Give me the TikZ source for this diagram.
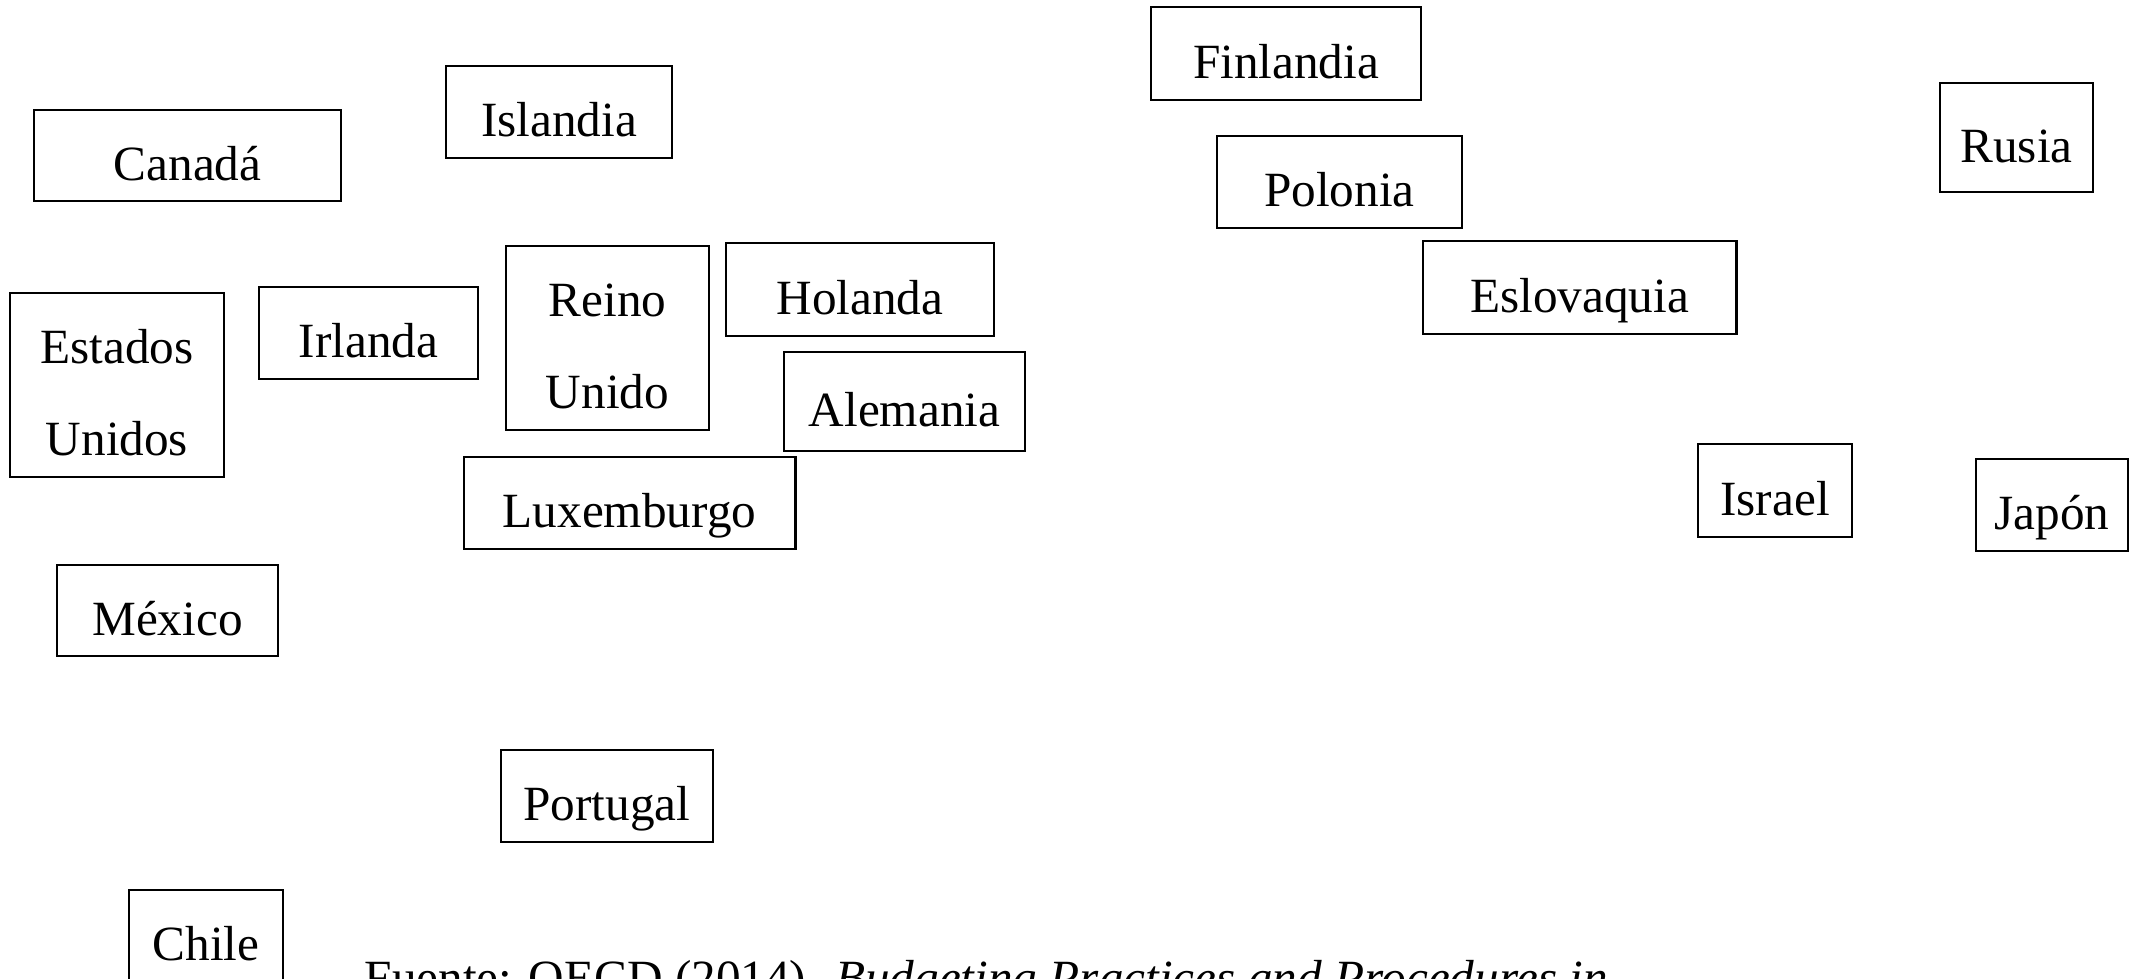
\documentclass[tikz,border=0pt]{standalone}
\usepackage{fontspec}
\setmainfont{Liberation Serif}
\usepackage{xcolor}
\usetikzlibrary{positioning}

\begin{document}
\begin{tikzpicture}[
    x=0.01cm, y=-0.01cm,
    pais/.style={draw=black, line width=0.8pt, rectangle, inner sep=0pt,
                 text height=17pt, text depth=3pt,
                 font=\fontsize{14}{26}\selectfont},
    pais2/.style={pais, align=center, text height=43pt, text depth=3pt},
    fuente/.style={anchor=base west, inner sep=0pt, font=\fontsize{14}{17}\selectfont},
]
\clip (0,0) rectangle (2129,979);
\fill[white] (0,0) rectangle (2129,979);

% left group
\node[pais, minimum width=3.07cm, minimum height=0.91cm] (canada) at (187.5,155.5) {Canadá};
\node[pais, minimum width=2.26cm, minimum height=0.92cm] (islandia) at (559,112) {Islandia};
\node[pais2, minimum width=2.14cm, minimum height=1.84cm] (eeuu) at (117,385) {Estados\\Unidos};
\node[pais, minimum width=2.19cm, minimum height=0.92cm] (irlanda) at (368.5,333) {Irlanda};
\node[pais2, minimum width=2.03cm, minimum height=1.84cm] (reino) at (607.5,338) {Reino\\Unido};
\node[pais, minimum width=2.68cm, minimum height=0.93cm] (holanda) at (860,289.5) {Holanda};
\node[pais, minimum width=2.41cm, minimum height=0.99cm] (alemania) at (904.5,401.5) {Alemania};
\node[pais, minimum width=3.31cm, minimum height=0.92cm] (luxemburgo) at (629.5,503) {Luxemburgo};
\node[pais, minimum width=2.21cm, minimum height=0.91cm] (mexico) at (167.5,610.5) {México};
\node[pais, minimum width=2.12cm, minimum height=0.92cm] (portugal) at (607,796) {Portugal};
\node[pais, minimum width=1.54cm, minimum height=0.91cm] (chile) at (206,935.5) {Chile};

% right group
\node[pais, minimum width=2.70cm, minimum height=0.93cm] (finlandia) at (1286,53.5) {Finlandia};
\node[pais, minimum width=2.45cm, minimum height=0.92cm] (polonia) at (1339.5,182) {Polonia};
\node[pais, minimum width=3.13cm, minimum height=0.93cm] (eslovaquia) at (1579.5,287.5) {Eslovaquia};
\node[pais, minimum width=1.53cm, minimum height=1.09cm] (rusia) at (2016.5,137.5) {Rusia};
\node[pais, minimum width=1.54cm, minimum height=0.93cm] (israel) at (1775,490.5) {Israel};
\node[pais, minimum width=1.52cm, minimum height=0.92cm] (japon) at (2052,505) {Japón};

% source line
\node[fuente] (fuente) at (364,994) {Fuente: OECD (2014). \textit{Budgeting Practices and Procedures in}};
\end{tikzpicture}
\end{document}
